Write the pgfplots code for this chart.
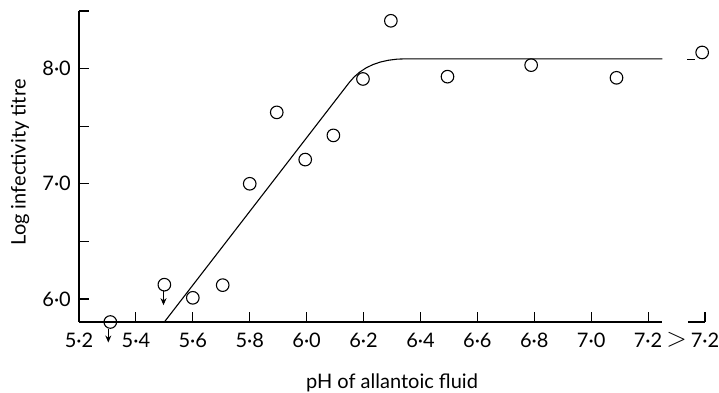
\documentclass[border=0pt]{standalone}
\usepackage{pgfplots}
\pgfplotsset{compat=1.18}
\usepackage{graphicx}
\usepackage{fontspec}
\setmainfont{Lato}
\usetikzlibrary{arrows.meta}
\newcommand{\chartfont}{\fontsize{20bp}{24bp}\selectfont}
\begin{document}
\begin{tikzpicture}[font=\chartfont]
\useasboundingbox (0,0) rectangle (719bp,393bp);
\begin{axis}[
  at={(79bp,71bp)}, anchor=south west,
  scale only axis, width=626bp, height=311bp,
  xmin=5.2, xmax=7.4, ymin=5.8, ymax=8.5,
  clip=false,
  font=\chartfont,
  axis x line*=bottom, axis y line*=left,
  x axis line style={draw=none},
  y axis line style={line width=1.2pt},
  tick align=inside,
  major tick length=10bp,
  every tick/.style={black, line width=1.1pt},
  xtick={5.2,5.4,5.6,5.8,6.0,6.2,6.4,6.6,6.8,7.0,7.2,7.4},
  xticklabels={5·2,5·4,5·6,5·8,6·0,6·2,6·4,6·6,6·8,7·0,7·2,{\llap{\raisebox{0.5bp}{\scalebox{1.3}{$>$}}\hspace{4bp}}7·2\hspace{10bp}}},
  ytick={6,6.5,7,7.5,8,8.5},
  yticklabels={6·0,,7·0,,8·0,},
  xticklabel style={anchor=base, inner sep=0pt, yshift=-25.5bp, font=\chartfont},
  yticklabel style={anchor=east, inner sep=0pt, xshift=-8bp, font=\chartfont},
  xlabel={pH of allantoic fluid},
  ylabel={Log infectivity titre},
  xlabel style={at={(axis description cs:0.5,-0.2154)}, anchor=base, inner sep=0pt, font=\chartfont},
  ylabel style={at={(axis description cs:-0.0942,0.513)}, anchor=center, inner sep=0pt, font=\chartfont},
]
% broken x axis line
\draw[line width=1.2pt] (axis cs:5.2,5.8) -- (axis cs:7.25,5.8);
\draw[line width=1.2pt] (axis cs:7.34,5.8) -- (axis cs:7.4,5.8);
% fitted curve
\addplot[black, line width=1.1pt, mark=none] coordinates {
  (5.5,5.8) (6.15,7.88) (6.1671,7.9280) (6.1866,7.9697) (6.2081,8.0049)
  (6.232,8.0338) (6.2581,8.0562) (6.2866,8.0722) (6.3171,8.0818)
  (6.35,8.085) (7.25,8.085)
};
\addplot[black, line width=1.1pt, mark=none] coordinates {(7.337,8.082) (7.366,8.082)};
% observations
\addplot[only marks, mark=o, mark size=6.3bp, mark options={line width=1.1pt, black}] coordinates {
  (5.31,5.8) (5.50,6.124) (5.60,6.01) (5.705,6.12) (5.80,7.00) (5.895,7.62)
  (5.995,7.21) (6.094,7.42) (6.198,7.91) (6.296,8.415) (6.495,7.93)
  (6.789,8.03) (7.089,7.92) (7.39,8.14)
};
% downward arrows (values are upper limits)
\addplot[black, line width=1.1pt, mark=none, -{Stealth[length=7bp,width=6bp]},
  quiver={u=\thisrow{u}, v=\thisrow{v}}] table {
x y u v
5.303 5.742 0 -0.12
5.497 6.066 0 -0.12
};
\end{axis}
\end{tikzpicture}
\end{document}
